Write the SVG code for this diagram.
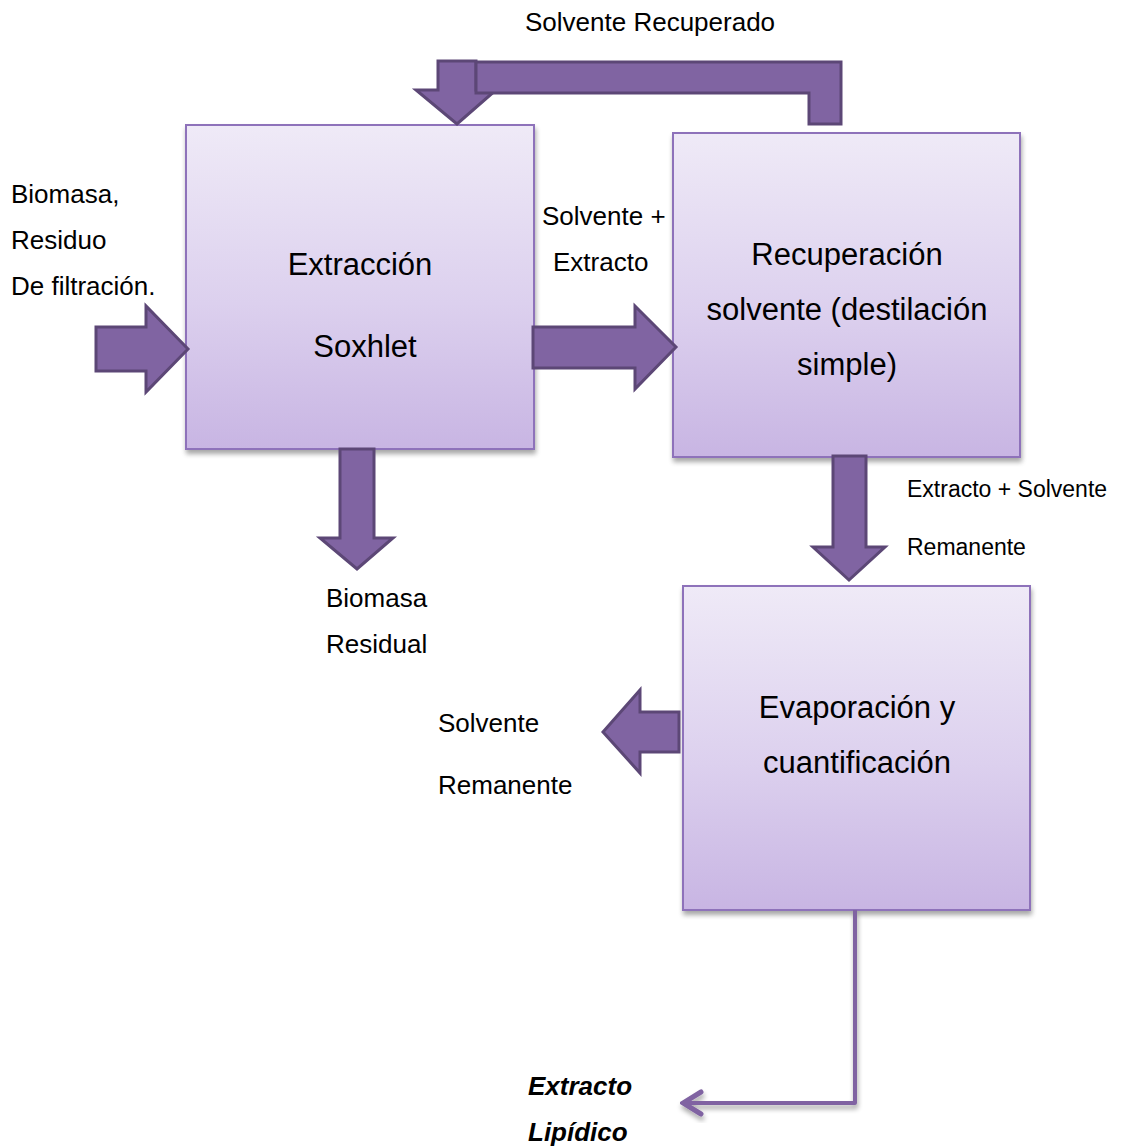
<svg xmlns="http://www.w3.org/2000/svg" width="1125" height="1146" viewBox="0 0 1125 1146">
  <defs>
    <linearGradient id="boxFill" x1="0" y1="0" x2="0" y2="1">
      <stop offset="0" stop-color="#EFEAF7"/>
      <stop offset="0.55" stop-color="#DCD0EE"/>
      <stop offset="1" stop-color="#C8B5E3"/>
    </linearGradient>
    <filter id="shadow" x="-10%" y="-10%" width="120%" height="120%">
      <feGaussianBlur in="SourceAlpha" stdDeviation="2.5"/>
      <feOffset dx="1" dy="4" result="b"/>
      <feComponentTransfer><feFuncA type="linear" slope="0.35"/></feComponentTransfer>
      <feMerge><feMergeNode/><feMergeNode in="SourceGraphic"/></feMerge>
    </filter>
    <marker id="chevron" viewBox="0 0 24 30" refX="21" refY="15" markerWidth="24" markerHeight="30" markerUnits="userSpaceOnUse" orient="auto">
      <path d="M3,4 L21,15 L3,26" fill="none" stroke="#8064A2" stroke-width="5" stroke-linecap="round" stroke-linejoin="miter"/>
    </marker>
  </defs>
  <style>
    .box { fill: url(#boxFill); stroke: #8E72BA; stroke-width: 2; filter: url(#shadow); }
    .big { font-family: "Liberation Sans", Arial, sans-serif; font-size: 31px; fill: #000; text-anchor: middle; }
    .lbl { font-family: "Liberation Sans", Arial, sans-serif; font-size: 26px; fill: #000; }
    .sml { font-family: "Liberation Sans", Arial, sans-serif; font-size: 23px; fill: #000; }
    .bi { font-weight: bold; font-style: italic; }
    .arrow { fill: #8064A2; stroke: #5C4776; stroke-width: 3; stroke-linejoin: miter; }
    .flow { fill: none; stroke: #8064A2; stroke-width: 4; stroke-linejoin: round; filter: url(#shadow); }
  </style>

  <rect width="1125" height="1146" fill="#FFFFFF"/>

  <!-- process blocks -->
  <g id="extraccion">
    <rect class="box" x="186" y="125" width="348" height="324"/>
    <text class="big" x="360" y="275">Extracción</text>
    <text class="big" x="365" y="357">Soxhlet</text>
  </g>

  <g id="recuperacion">
    <rect class="box" x="673" y="133" width="347" height="324"/>
    <text class="big" x="847" y="265">Recuperación</text>
    <text class="big" x="847" y="320">solvente (destilación</text>
    <text class="big" x="847" y="375">simple)</text>
  </g>

  <g id="evaporacion">
    <rect class="box" x="683" y="586" width="347" height="324"/>
    <text class="big" x="857" y="718">Evaporación y</text>
    <text class="big" x="857" y="773">cuantificación</text>
  </g>

  <!-- block arrows and flow line -->
  <g id="connectors">
    <!-- feed into extraction -->
    <polygon class="arrow" points="96,327 146,327 146,306 188,349 146,392 146,371 96,371"/>
    <!-- solvent + extract to recovery -->
    <polygon class="arrow" points="533,327 635,327 635,306 676,347 635,389 635,368 533,368"/>
    <!-- residual biomass out -->
    <polygon class="arrow" points="340,449 374,449 374,538 393,538 357,569 320,538 340,538"/>
    <!-- extract + solvent to evaporation -->
    <polygon class="arrow" points="833,456 866,456 866,547 885,547 849,580 813,547 833,547"/>
    <!-- remaining solvent out -->
    <polygon class="arrow" points="679,712 640,712 640,690 603,732 640,773 640,752 679,752"/>
    <!-- recovered solvent return -->
    <polygon class="arrow" points="438,61 476,61 476,90 496,90 457,124 416,90 438,90"/>
    <polygon class="arrow" points="476,62 841,62 841,124 809,124 809,93 476,93"/>
    <!-- lipid extract out -->
    <path class="flow" d="M855,910 L855,1103 L683,1103" marker-end="url(#chevron)"/>
  </g>

  <!-- stream labels -->
  <g id="labels">
    <text class="lbl" x="525" y="31">Solvente Recuperado</text>
    <text class="lbl" x="11" y="203">Biomasa,</text>
    <text class="lbl" x="11" y="249">Residuo</text>
    <text class="lbl" x="11" y="295">De filtración.</text>
    <text class="lbl" x="542" y="225">Solvente +</text>
    <text class="lbl" x="553" y="271">Extracto</text>
    <text class="lbl" x="326" y="607">Biomasa</text>
    <text class="lbl" x="326" y="653">Residual</text>
    <text class="sml" x="907" y="497">Extracto + Solvente</text>
    <text class="sml" x="907" y="555">Remanente</text>
    <text class="lbl" x="438" y="732">Solvente</text>
    <text class="lbl" x="438" y="794">Remanente</text>
    <text class="lbl bi" x="528" y="1095">Extracto</text>
    <text class="lbl bi" x="528" y="1141">Lipídico</text>
  </g>
</svg>
